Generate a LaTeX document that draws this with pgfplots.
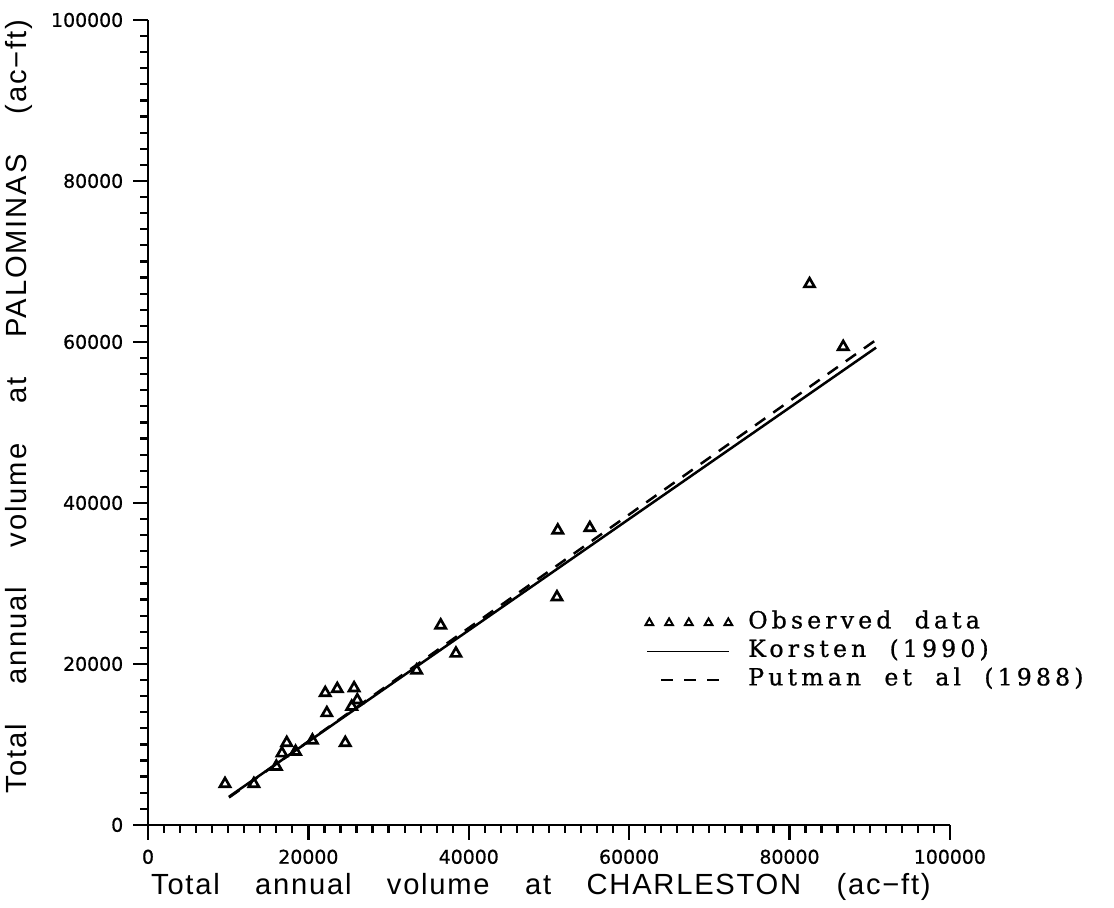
\documentclass[border=0pt]{standalone}
\usepackage{fontspec}
\setmainfont{Liberation Sans}
\newfontfamily\labfont[WordSpace=3.6,LetterSpace=6]{Liberation Sans}
\newfontfamily\ylabfont[WordSpace=4.0,LetterSpace=6.5]{Liberation Sans}
\newfontfamily\tickfont[FakeBold=0.8]{DejaVu Sans}
\newfontfamily\legfont[LetterSpace=17.5,WordSpace=2.0,FakeBold=0.8]{DejaVu Serif}
\usepackage{pgfplots}
\pgfplotsset{compat=1.18}
\begin{document}
\begin{tikzpicture}
\useasboundingbox (-53.3pt,-29.9pt) rectangle (347.8pt,297pt);
\begin{axis}[
  scale only axis, width=288.7pt, height=289.8pt,
  xmin=0, xmax=100000, ymin=0, ymax=100000,
  axis x line=bottom, axis y line=left,
  axis line style={-, line width=0.85pt},
  xtick={0,20000,...,100000}, ytick={0,20000,...,100000},
  minor tick num=9, tick align=outside,
  major tick length=5.4pt, minor tick length=2.8pt,
  tick style={line width=0.8pt, black},
  scaled ticks=false,
  /pgf/number format/fixed,
  /pgf/number format/precision=0,
  /pgf/number format/1000 sep={},
  /pgf/number format/assume math mode=true,
  tick label style={font=\tickfont\fontsize{6.8}{8}\selectfont},
  xlabel={Total annual volume at CHARLESTON (ac−ft)},
  ylabel={Total annual volume at PALOMINAS (ac−ft)},
  xlabel style={font=\labfont\fontsize{10.5}{12}\selectfont, at={(ticklabel cs:0.49)}, yshift=3.6pt},
  ylabel style={font=\ylabfont\fontsize{10.5}{12}\selectfont, at={(ticklabel cs:0.52)}},
  clip=false,
  legend cell align=left,
  legend style={at={(axis cs:61970,26550)}, anchor=north west, draw=none, fill=none,
    font=\legfont\fontsize{8.5}{9}\selectfont, inner sep=0pt, row sep=2.26pt, column sep=5.8pt,
    nodes={inner sep=0pt, text height=6pt, text depth=2pt}},
]
\addplot[only marks, mark=triangle, mark size=2.1pt, mark options={line width=0.95pt, black},
  legend image code/.code={\draw[only marks, mark=triangle, mark size=1.6pt, mark options={line width=0.7pt, black}]
    plot coordinates {(0pt,0pt) (7.11pt,0pt) (14.22pt,0pt) (21.33pt,0pt) (28.44pt,0pt)};}]
  coordinates {
  (9600,5100) (13200,5100) (16000,7250) (16700,8900) (17300,10200) (18400,9100)
  (20500,10500) (24600,10200) (22300,13900) (22100,16400) (23600,16900) (25700,17000)
  (25400,14700) (26100,15500) (33500,19200) (36500,24800) (38400,21300)
  (51000,28300) (51100,36600) (55100,36900) (82500,67200) (86700,59400)
  };
\addlegendentry{Observed data}
\addplot[black, line width=0.9pt,
  legend image code/.code={\draw[black, line width=0.6pt] (-0.7pt,0pt) -- (28.8pt,0pt);}]
  coordinates {(10100,3500) (90800,59300)};
\addlegendentry{Korsten (1990)}
\addplot[black, line width=0.9pt, dash pattern=on 4.5pt off 3.5pt,
  legend image code/.code={\draw[black, line width=0.6pt, dash pattern=on 4.3pt off 4pt] (4.3pt,0pt) -- (25.9pt,0pt);}]
  coordinates {(10100,3400) (91000,60400)};
\addlegendentry{Putman et al (1988)}
\end{axis}
\end{tikzpicture}
\end{document}
